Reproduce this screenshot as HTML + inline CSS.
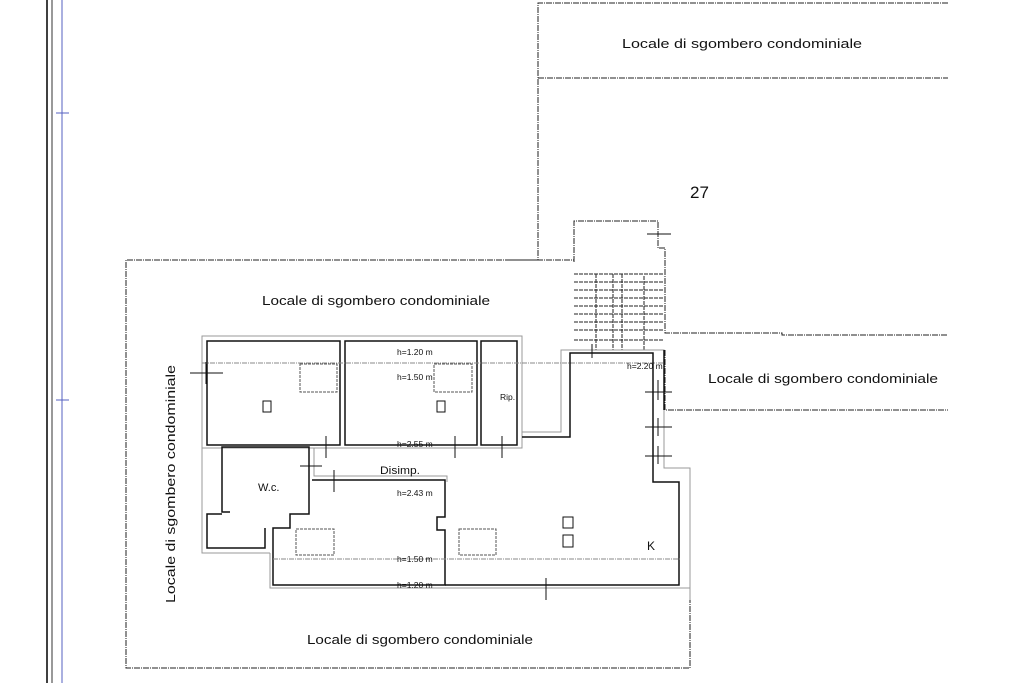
<!DOCTYPE html>
<html><head><style>
html,body{margin:0;padding:0;background:#fff;}
svg{display:block;}
text{font-family:"Liberation Sans",sans-serif;fill:#111;}
</style></head><body>
<svg width="1024" height="683" viewBox="0 0 1024 683" xmlns="http://www.w3.org/2000/svg">
<line x1="47" y1="0" x2="47" y2="683" stroke="#000" stroke-width="1.5"/>
<line x1="52" y1="0" x2="52" y2="683" stroke="#333" stroke-width="1"/>
<line x1="62" y1="0" x2="62" y2="683" stroke="#5560c0" stroke-width="1"/>
<line x1="56" y1="113" x2="69" y2="113" stroke="#5560c0"/>
<line x1="56" y1="400" x2="69" y2="400" stroke="#5560c0"/>

<g fill="none" stroke="#222" stroke-width="1" stroke-dasharray="6,1,1,1">
<polyline points="948,3 538,3 538,260"/>
<line x1="538" y1="78" x2="948" y2="78"/>
<polyline points="538,260 126,260 126,668 690,668 690,588"/>
<polyline points="574,262 574,221 658,221 658,248 665,248 665,333 782,333 782,335 948,335"/>
<line x1="510" y1="260" x2="574" y2="260"/>
<polyline points="665,350 665,410 948,410"/>
</g>
<g stroke="#222" stroke-width="1" stroke-dasharray="4,1">
<line x1="574" y1="274" x2="664" y2="274"/>
<line x1="574" y1="282" x2="664" y2="282"/>
<line x1="574" y1="290" x2="664" y2="290"/>
<line x1="574" y1="298" x2="664" y2="298"/>
<line x1="574" y1="306" x2="664" y2="306"/>
<line x1="574" y1="314" x2="664" y2="314"/>
<line x1="574" y1="322" x2="664" y2="322"/>
<line x1="574" y1="330" x2="664" y2="330"/>
<line x1="574" y1="340" x2="664" y2="340"/>
<line x1="596" y1="274" x2="596" y2="350"/>
<line x1="613" y1="274" x2="613" y2="350"/>
<line x1="622" y1="274" x2="622" y2="350"/>
<line x1="644" y1="276" x2="644" y2="350"/>
</g>

<rect x="202" y="336" width="320" height="112" fill="none" stroke="#999" stroke-width="1"/>
<g fill="none" stroke="#111" stroke-width="1.5">
<rect x="207" y="341" width="133" height="104"/>
<rect x="345" y="341" width="132" height="104"/>
<rect x="481" y="341" width="36" height="104"/>
</g>
<line x1="202" y1="363" x2="664" y2="363" stroke="#888" stroke-dasharray="5,1,1,1"/>
<g fill="none" stroke="#555" stroke-dasharray="3,1">
<rect x="300" y="364" width="37" height="28"/>
<rect x="434" y="364" width="38" height="28"/>
<rect x="296" y="529" width="38" height="26"/>
<rect x="459" y="529" width="37" height="26"/>
</g>
<g fill="none" stroke="#111" stroke-width="1">
<rect x="263" y="401" width="8" height="11"/>
<rect x="437" y="401" width="8" height="11"/>
<rect x="563" y="517" width="10" height="11"/>
<rect x="563" y="535" width="10" height="12"/>
</g>

<polyline points="522,432 561,432 561,350 664,350 664,468 690,468 690,600" fill="none" stroke="#999" stroke-width="1"/>
<polyline points="522,437 570,437 570,353 653,353 653,482 679,482 679,585 445,585" fill="none" stroke="#111" stroke-width="1.5"/>
<line x1="664" y1="350" x2="664" y2="410" stroke="#111" stroke-width="1.5"/>

<polyline points="270,553 270,588 690,588" fill="none" stroke="#999"/>
<polyline points="312,480 445,480 445,517 437,517 437,530 445,530 445,585 273,585 273,528 290,528 290,514 309,514 309,447 222,447 222,512 230,512" fill="none" stroke="#111" stroke-width="1.5"/>
<polyline points="265,528 265,548 207,548 207,514 222,514" fill="none" stroke="#111" stroke-width="1.5"/>
<polyline points="202,448 202,553 270,553" fill="none" stroke="#999"/>
<polyline points="314,448 314,476 447,476 447,482" fill="none" stroke="#999"/>
<line x1="273" y1="559" x2="680" y2="559" stroke="#888" stroke-dasharray="5,1,1,1"/>

<g stroke="#111" stroke-width="1">
<line x1="190" y1="373" x2="223" y2="373"/><line x1="206" y1="362" x2="206" y2="384"/>
<line x1="326" y1="436" x2="326" y2="458"/>
<line x1="455" y1="436" x2="455" y2="458"/>
<line x1="502" y1="436" x2="502" y2="458"/>
<line x1="300" y1="466" x2="322" y2="466"/>
<line x1="334" y1="470" x2="334" y2="492"/>
<line x1="546" y1="578" x2="546" y2="600"/>
<line x1="647" y1="234" x2="671" y2="234"/>
<line x1="645" y1="392" x2="672" y2="392"/>
<line x1="645" y1="427" x2="672" y2="427"/>
<line x1="645" y1="456" x2="672" y2="456"/>
<line x1="658" y1="380" x2="658" y2="400"/>
<line x1="658" y1="418" x2="658" y2="436"/>
<line x1="658" y1="446" x2="658" y2="464"/>
<line x1="592" y1="344" x2="592" y2="358"/>
</g>

<text x="622" y="48" font-size="13" textLength="240" lengthAdjust="spacingAndGlyphs">Locale di sgombero condominiale</text>
<text x="690" y="198" font-size="17">27</text>
<text x="262" y="305" font-size="13" textLength="228" lengthAdjust="spacingAndGlyphs">Locale di sgombero condominiale</text>
<text x="708" y="383" font-size="13" textLength="230" lengthAdjust="spacingAndGlyphs">Locale di sgombero condominiale</text>
<text x="307" y="644" font-size="13" textLength="226" lengthAdjust="spacingAndGlyphs">Locale di sgombero condominiale</text>
<text transform="translate(175,365) rotate(-90)" x="-603" y="0" font-size="13" textLength="238" lengthAdjust="spacingAndGlyphs" style="display:none">x</text>
<text transform="translate(175,603) rotate(-90)" x="0" y="0" font-size="13" textLength="238" lengthAdjust="spacingAndGlyphs">Locale di sgombero condominiale</text>
<g font-size="8.5">
<text x="397" y="355">h=1.20 m</text>
<text x="397" y="380">h=1.50 m</text>
<text x="397" y="447">h=2.55 m</text>
<text x="500" y="400">Rip.</text>
<text x="397" y="496">h=2.43 m</text>
<text x="397" y="562">h=1.50 m</text>
<text x="397" y="588">h=1.20 m</text>
<text x="627" y="369">h=2.20 m</text>
</g>
<text x="380" y="474" font-size="11" textLength="40" lengthAdjust="spacingAndGlyphs">Disimp.</text>
<text x="258" y="491" font-size="11">W.c.</text>
<text x="647" y="550" font-size="12">K</text>
</svg>
</body></html>
